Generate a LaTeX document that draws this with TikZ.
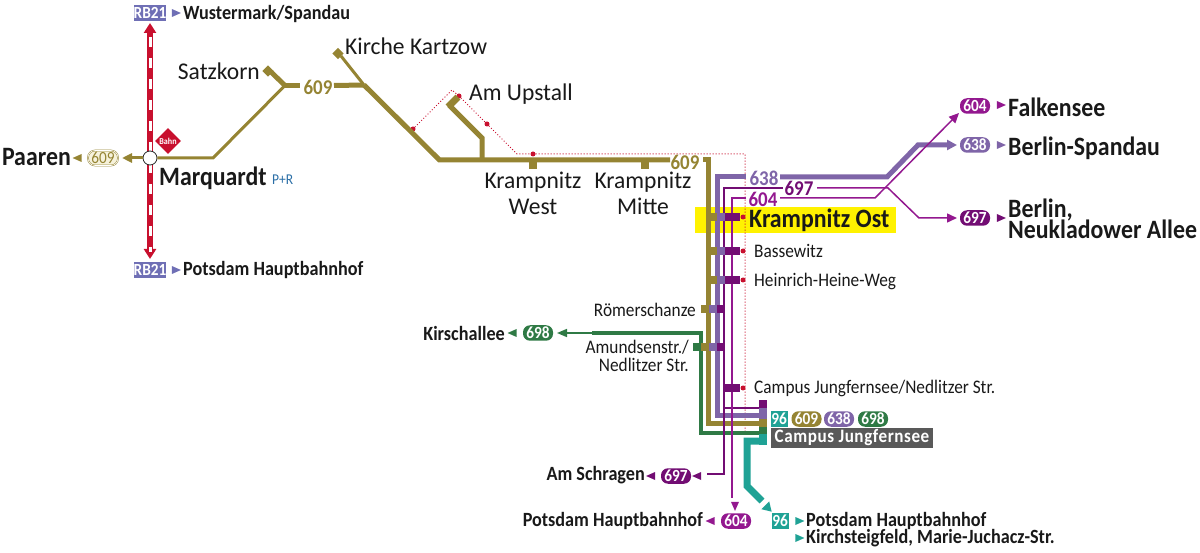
\documentclass[tikz,border=0pt]{standalone}
\usepackage{fontspec}
\setmainfont[FakeStretch=0.9]{Carlito}
\newfontfamily\widefont[FakeStretch=0.98]{Carlito}
\usetikzlibrary{arrows.meta,shapes.geometric}
\definecolor{olv}{HTML}{958433}
\definecolor{olvpale}{HTML}{F6F2DC}
\definecolor{lila}{HTML}{7F65A8}
\definecolor{mag}{HTML}{93188F}
\definecolor{dkmag}{HTML}{720D73}
\definecolor{grn}{HTML}{2F7A45}
\definecolor{teal96}{HTML}{1FA295}
\definecolor{bahnred}{HTML}{C8102E}
\definecolor{rbblue}{HTML}{6F6FB5}
\definecolor{boxgrey}{HTML}{595959}
\definecolor{prblue}{HTML}{2A6EA6}
\definecolor{hilite}{HTML}{FFF200}
\newcommand\fs[1]{\fontsize{#1}{#1}\selectfont}
\tikzset{
        big/.style={inner sep=0pt,font=\widefont\fs{24},text=black!90},
        small/.style={inner sep=0pt,font=\fs{19.2},text=black!90},
        bigbold/.style={inner sep=0pt,font=\fs{26.5}\bfseries,text=black!90},
        smallbold/.style={inner sep=0pt,font=\fs{20.2}\bfseries,text=black!90},
        num/.style={inner sep=0pt,font=\fs{21}\bfseries,text=#1},
        badge/.style={fill=#1,text=white,rounded corners=7pt,minimum width=30pt,minimum height=15.5pt,text height=11pt,text depth=0pt,inner sep=0pt,font=\fs{17}\bfseries},
        squarebadge/.style={fill=#1,text=white,minimum height=15.5pt,text height=11pt,text depth=0pt,inner sep=0pt,font=\fs{17}\bfseries},
        headtip/.style={isosceles triangle,isosceles triangle apex angle=70,isosceles triangle stretches,minimum width=8pt,minimum height=9pt,inner sep=0pt,fill=#1},
        stopend/.style={rectangle,rotate=45,minimum size=8pt,inner sep=0pt,fill=olv},
        fat/.style={line width=5pt,draw=#1},
        slim/.style={line width=1.5pt,draw=#1},
        walk/.style={draw=bahnred,line width=1pt,dash pattern=on 1pt off 2pt},
        walkdot/.style={circle,minimum size=5pt,inner sep=0pt,fill=bahnred}
}
\begin{document}
\begin{tikzpicture}[x=1pt,y=-1pt]
        \useasboundingbox (0,0) rectangle (1200,553);
        \fill[hilite] (695,207) rectangle (896,233);
        \node[walkdot] (wA) at (413,129) {};
        \node[walkdot] (wB) at (459,96) {};
        \node[walkdot] (wC) at (487,124) {};
        \node[walkdot] (wD) at (533,154) {};
        \node[walkdot] (wE) at (743,217) {};
        \node[walkdot] (wF) at (743,251) {};
        \node[walkdot] (wG) at (743,280) {};
        \node[walkdot] (wH) at (743,388) {};
        \coordinate (wtop) at (452,90);
        \coordinate (wbend) at (517,154);
        \coordinate (wcorner) at (745,154);
        \coordinate (wend) at (745,432);
        \draw[walk] (wA) -- (wtop) -- (wB) -- (wC) -- (wbend) -- (wD) -- (wcorner) -- (wend);
        \coordinate (railn) at (150,23);
        \coordinate (rails) at (150,259);
        \coordinate (whiten) at (150,37.5);
        \coordinate (whites) at (150,252);
        \draw[line width=6.5pt,draw=bahnred,{Triangle[width=12pt,length=10pt]}-{Triangle[width=12pt,length=10pt]}] (railn) -- (rails);
        \draw[line width=3pt,white,dash pattern=on 10pt off 11pt] (whiten) -- (whites);
        \node[circle,draw=black!85,line width=.8pt,fill=white,minimum size=14pt,inner sep=0pt] (marq) at (150,158) {};
        \node[diamond,fill=bahnred,text=white,minimum size=26pt,inner sep=0pt,font=\fs{9}\bfseries] (bahn) at (168,141) {Bahn};
        \node[squarebadge=rbblue,minimum width=30pt] (rbn) at (150,13) {RB21};
        \node[squarebadge=rbblue,minimum width=30pt] (rbs) at (150,270) {RB21};
        \node[headtip=rbblue] (tipn) at (174.5,13) {};
        \node[headtip=rbblue] (tips) at (174.5,270) {};
        \node[smallbold,anchor=west] (wust) at (183,14) {Wustermark/Spandau};
        \node[smallbold,anchor=west] (pots) at (183,270.5) {Potsdam Hauptbahnhof};
        \node[bigbold,anchor=west] (marqt) at (159,178.5) {Marquardt};
        \node[anchor=west,inner sep=0pt,text=prblue,font=\fs{15}] (pr) at (272,180) {P+R};
        \coordinate (paa) at (122,158);
        \draw[line width=3pt,draw=olv,-{Triangle[width=9pt,length=10pt]}] (marq.west) -- (paa);
        \node[fill=olvpale,text=olv,rounded corners=7pt,draw=olv,line width=.5pt,double=white,double distance=.6pt,minimum width=30pt,minimum height=15pt,inner sep=0pt,font=\fs{17}] (b609a) at (103,158) {609};
        \node[headtip=olv,rotate=180] (tippaa) at (79,158) {};
        \node[bigbold,anchor=east] (paaren) at (71,157) {Paaren};
        \coordinate (mA) at (213,158);
        \coordinate (mB) at (285,85.5);
        \coordinate (mC) at (300,85.5);
        \coordinate (mD) at (334,85.5);
        \coordinate (mE) at (364,85);
        \coordinate (mF) at (439.5,160);
        \coordinate (mG) at (670,160);
        \coordinate (sz) at (271,72);
        \coordinate (kk) at (341,56);
        \coordinate (upA) at (449,105);
        \coordinate (upB) at (482,138);
        \coordinate (upC) at (482,160);
        \draw[line width=3pt,draw=olv] (marq.east) -- (mA) -- (mB);
        \draw[fat=olv] (mB) -- (sz);
        \draw[fat=olv] (mB) -- (mC);
        \draw[fat=olv] (mD) -- (mE);
        \draw[line width=3pt,draw=olv] (kk) -- (mE);
        \draw[fat=olv] (mE) -- (mF) -- (mG);
        \draw[fat=olv] (upA) -- (upB) -- (upC);
        \node[stopend] (szend) at (268,71) {};
        \node[stopend] (kkend) at (338,53.5) {};
        \node[stopend,minimum width=14pt,minimum height=7pt] (upend) at (453,102) {};
        \fill[olv] (529,160) rectangle (537,169);
        \fill[olv] (641,160) rectangle (649,169);
        \node[num=olv] (n609a) at (318,87) {609};
        \node[num=olv] (n609b) at (685,162) {609};
        \node[big,anchor=east] (satz) at (260,71) {Satzkorn};
        \node[big,anchor=west] (kirche) at (345,46) {Kirche Kartzow};
        \node[big,anchor=west] (upstall) at (469,94) {Am Upstall};
        \node[big,align=center] (west) at (533,193) {Krampnitz\\[2pt]West};
        \node[big,align=center] (mitte) at (643,193) {Krampnitz\\[2pt]Mitte};
        \coordinate (grA) at (592,333);
        \coordinate (grB) at (701,333);
        \coordinate (grC) at (701,433);
        \coordinate (grD) at (766,433);
        \coordinate (grE) at (557,333);
        \draw[fat=grn,line width=4.5pt] (grA) -- (grB) -- (grC) -- (grD);
        \draw[slim=grn,-{Triangle[width=8pt,length=10pt]}] (grA) -- (grE);
        \coordinate (olA) at (703,160);
        \coordinate (olB) at (708,160);
        \coordinate (olC) at (708,423);
        \coordinate (olD) at (766,423);
        \draw[fat=olv] (olA) -- (olB) -- (olC) -- (olD);
        \coordinate (liA) at (746,177);
        \coordinate (liB) at (717,177);
        \coordinate (liC) at (717,415);
        \coordinate (liD) at (766,415);
        \coordinate (liE) at (780,177);
        \coordinate (liF) at (887,177);
        \coordinate (liG) at (918,145);
        \coordinate (liH) at (957,145);
        \draw[fat=lila] (liA) -- (liB) -- (liC) -- (liD);
        \draw[fat=lila,-{Triangle[width=10pt,length=10pt]}] (liE) -- (liF) -- (liG) -- (liH);
        \coordinate (dkA) at (783,188);
        \coordinate (dkB) at (724,188);
        \coordinate (dkC) at (724,474);
        \coordinate (dkD) at (707,474);
        \coordinate (dkE) at (817,188);
        \coordinate (dkF) at (888,188);
        \coordinate (dkG) at (919,218);
        \coordinate (dkH) at (957,218);
        \coordinate (dkI) at (724,408);
        \coordinate (dkJ) at (760,408);
        \draw[slim=dkmag] (dkA) -- (dkB) -- (dkC) -- (dkD);
        \draw[slim=dkmag] (dkI) -- (dkJ);
        \draw[slim=mag,-{Triangle[width=9pt,length=10pt]}] (dkE) -- (dkF) -- (dkG) -- (dkH);
        \coordinate (mgA) at (746,198);
        \coordinate (mgB) at (732,198);
        \coordinate (mgC) at (732,498);
        \coordinate (mgE) at (780,198);
        \coordinate (mgF) at (875,198);
        \coordinate (mgG) at (959,113);
        \draw[slim=mag] (mgA) -- (mgB) -- (mgC);
        \draw[slim=mag,-{Triangle[width=9pt,length=10pt]}] (mgE) -- (mgF) -- (mgG);
        \fill[olv] (709,213) rectangle (717,221);
        \fill[lila] (717,213) rectangle (725,221);
        \fill[dkmag] (725,213) rectangle (740,221);
        \fill[olv] (709,247) rectangle (717,255);
        \fill[lila] (717,247) rectangle (725,255);
        \fill[dkmag] (725,247) rectangle (740,255);
        \fill[olv] (709,276) rectangle (717,284);
        \fill[lila] (717,276) rectangle (725,284);
        \fill[dkmag] (725,276) rectangle (740,284);
        \fill[olv] (701,305) rectangle (709,313);
        \fill[lila] (709,305) rectangle (717,313);
        \fill[dkmag] (717,305) rectangle (725,313);
        \fill[grn] (693,343) rectangle (701,351);
        \fill[olv] (701,343) rectangle (709,351);
        \fill[lila] (709,343) rectangle (717,351);
        \fill[dkmag] (717,343) rectangle (725,351);
        \fill[dkmag] (725,384) rectangle (740,392);
        \coordinate (tlA) at (766,441);
        \coordinate (tlB) at (747,441);
        \coordinate (tlC) at (747,486);
        \coordinate (tlD) at (762,501);
        \draw[line width=7pt,draw=teal96] (tlA) -- (tlB) -- (tlC) -- (tlD);
        \fill[dkmag] (759,400) rectangle (767,408);
        \fill[lila] (759,408) rectangle (767,419);
        \fill[olv] (759,419) rectangle (767,427);
        \fill[grn] (759,427) rectangle (767,434);
        \fill[teal96] (759,434) rectangle (767,445);
        \node[headtip=teal96,rotate=-45,minimum width=11pt] (tiptl) at (767.5,507.5) {};
        \node[num=lila] (n638) at (764,178) {638};
        \node[num=dkmag] (n697) at (799,188) {697};
        \node[num=mag] (n604) at (763,199) {604};
        \node[bigbold,anchor=west] (ost) at (749,220) {Krampnitz Ost};
        \node[small,anchor=west] (basse) at (754,250.5) {Bassewitz};
        \node[small,anchor=west] (heine) at (754,281) {Heinrich-Heine-Weg};
        \node[small,anchor=east] (roemer) at (696,309.5) {Römerschanze};
        \node[small,anchor=east,align=right] (amund) at (689,356) {Amundsenstr./\\[-2pt]Nedlitzer Str.};
        \node[small,anchor=west] (cjn) at (754,388) {Campus Jungfernsee/Nedlitzer Str.};
        \node[squarebadge=teal96,minimum width=17pt] (b96a) at (779,419) {96};
        \node[badge=olv] (b609b) at (806.5,419) {609};
        \node[badge=lila] (b638b) at (839,419) {638};
        \node[badge=grn] (b698b) at (873,419) {698};
        \node[fill=boxgrey,text=white,minimum width=162pt,minimum height=20pt,inner sep=0pt,font=\fs{19}\bfseries\addfontfeatures{LetterSpace=3}] (cj) at (852,438) {Campus Jungfernsee};
        \node[badge=mag] (b604f) at (975,106) {604};
        \node[badge=lila] (b638f) at (975,145) {638};
        \node[badge=dkmag] (b697f) at (975,218) {697};
        \node[headtip=mag] (tipf) at (999.5,105) {};
        \node[headtip=lila] (tipb) at (999.5,145) {};
        \node[headtip=dkmag] (tipk) at (999.5,218) {};
        \node[bigbold,anchor=west] (falk) at (1008,107) {Falkensee};
        \node[bigbold,anchor=west] (spand) at (1008,148) {Berlin-Spandau};
        \node[bigbold,anchor=west,align=left] (neuk) at (1008,219) {Berlin,\\[-5pt]Neukladower Allee};
        \node[badge=grn] (b698k) at (538,333) {698};
        \node[headtip=grn,rotate=180] (tipgr) at (514,333) {};
        \node[smallbold,anchor=east] (kirsch) at (505,333) {Kirschallee};
        \node[badge=dkmag] (b697s) at (676,476) {697};
        \node[headtip=dkmag,rotate=180] (tipdk) at (698.5,476) {};
        \node[headtip=dkmag,rotate=180] (tipsc) at (652.5,476) {};
        \node[smallbold,anchor=east] (schrag) at (645,475) {Am Schragen};
        \node[badge=mag] (b604p) at (736,521) {604};
        \node[headtip=mag,rotate=-90] (tipmg) at (735,504.5) {};
        \node[headtip=mag,rotate=180] (tippo) at (712,521) {};
        \node[smallbold,anchor=east] (potsb) at (703,521) {Potsdam Hauptbahnhof};
        \node[squarebadge=teal96,minimum width=17pt] (b96b) at (780,521) {96};
        \node[headtip=teal96] (tipta) at (798,521) {};
        \node[headtip=teal96] (tiptb) at (798,538) {};
        \node[smallbold,anchor=west] (potsc) at (806,521) {Potsdam Hauptbahnhof};
        \node[smallbold,anchor=west] (kirchst) at (806,538) {Kirchsteigfeld, Marie-Juchacz-Str.};
    \end{tikzpicture}
\end{document}
